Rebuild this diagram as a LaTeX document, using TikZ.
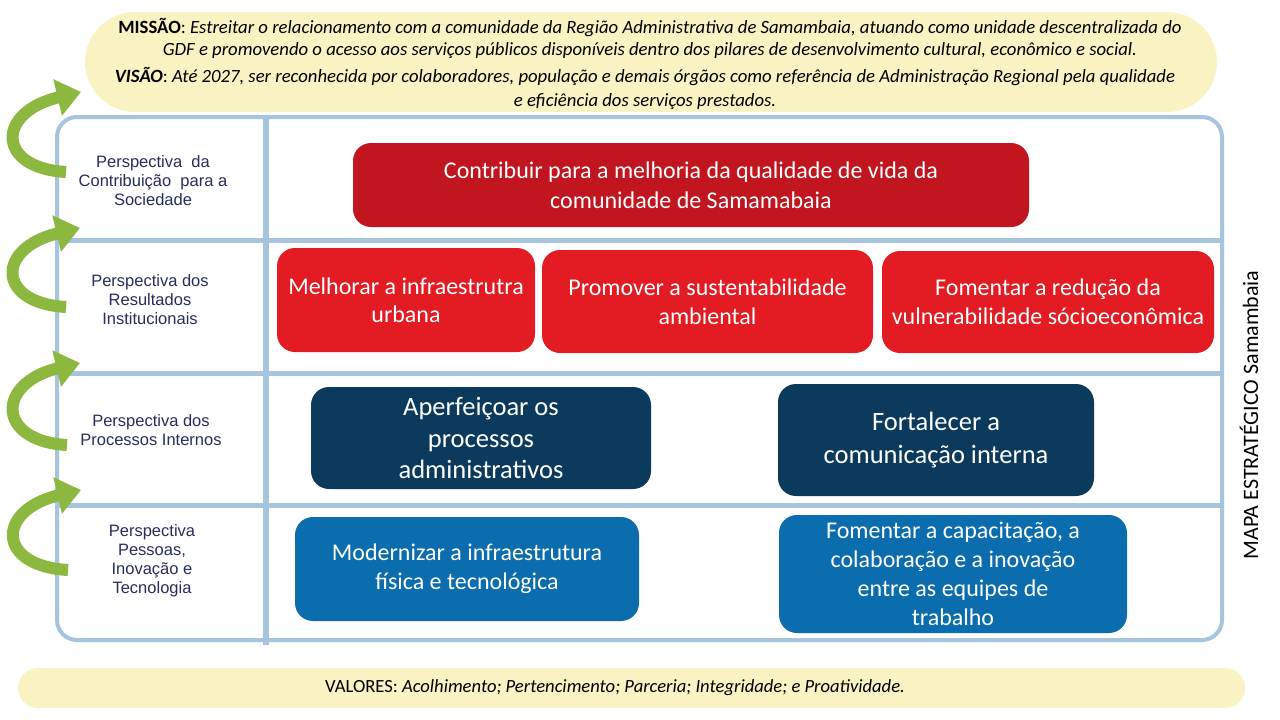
\documentclass[tikz,border=0pt]{standalone}
\usepackage{fontspec}
\setmainfont{Carlito}
\newfontfamily\arialf{Liberation Sans}
\usetikzlibrary{arrows.meta}
\definecolor{frameblue}{HTML}{A7C4DE}
\definecolor{paleyellow}{HTML}{F9F2C3}
\definecolor{darkred}{HTML}{C1161F}
\definecolor{brightred}{HTML}{E31B23}
\definecolor{navyobj}{HTML}{0C3A5C}
\definecolor{blueobj}{HTML}{0B6DAD}
\definecolor{labelnavy}{HTML}{262E5C}
\definecolor{greenarrow}{HTML}{8CB840}
\tikzset{
  obj/.style={rounded corners=18pt, text=white, align=center, inner sep=0pt,
    font=\fontsize{24}{30}\selectfont},
  persp/.style={align=center, text=labelnavy, inner sep=0pt,
    font=\arialf\fontsize{16.5}{19}\selectfont},
  divider/.style={draw=frameblue, line width=5pt},
  garrow/.style={draw=greenarrow, line width=12pt,
    -{Triangle[length=24pt,width=36pt]}}
}
\begin{document}
\begin{tikzpicture}[x=1pt,y=-1pt]
\useasboundingbox[fill=white] (0,0) rectangle (1280,720);

% top yellow band
\fill[paleyellow, rounded corners=50pt] (85,12) rectangle (1217,112);
\node[align=center, inner sep=0pt, font=\fontsize{18.7}{22}\selectfont] (mission) at (650,38)
  {\textbf{MISSÃO}: \textit{Estreitar o relacionamento com a comunidade da Região Administrativa de Samambaia, atuando como unidade descentralizada do}\\
   \textit{GDF e promovendo o acesso aos serviços públicos disponíveis dentro dos pilares de desenvolvimento cultural, econômico e social.}};
\node[align=center, inner sep=0pt, font=\fontsize{18.7}{24}\selectfont] (vision) at (645,88)
  {\textbf{\textit{VISÃO}}: \textit{Até 2027, ser reconhecida por colaboradores, população e demais órgãos como referência de Administração Regional pela qualidade}\\
   \textit{e eficiência dos serviços prestados.}};

% frame
\draw[frameblue, line width=4pt, rounded corners=20pt] (57,117) rectangle (1222,640);
\draw[divider] (57,240) -- (1222,240);
\draw[divider] (57,373) -- (1222,373);
\draw[divider] (57,505) -- (1222,505);
\draw[draw=frameblue, line width=6pt] (266,118) -- (266,645);

% perspective labels
\node[persp] (p1) at (153,181) {Perspectiva\ \ da\\Contribuição\ \ para a\\Sociedade};
\node[persp] (p2) at (150,300) {Perspectiva dos\\Resultados\\Institucionais};
\node[persp] (p3) at (151,430) {Perspectiva dos\\Processos Internos};
\node[persp] (p4) at (152,561) {Perspectiva\\Pessoas,\\Inovação e\\Tecnologia};

% objectives
\node[obj, fill=darkred, minimum width=676pt, minimum height=84pt] (o1) at (691,185)
  {Contribuir para a melhoria da qualidade de vida da\\comunidade de Samamabaia};
\node[obj, fill=brightred, minimum width=258pt, minimum height=104pt, font=\fontsize{24}{28}\selectfont] (o21) at (406,300)
  {Melhorar a infraestrutra\\urbana};
\node[obj, fill=brightred, minimum width=331pt, minimum height=103pt, font=\fontsize{24}{29}\selectfont] (o22) at (707.5,301.5)
  {Promover a sustentabilidade\\ambiental};
\node[obj, fill=brightred, minimum width=332pt, minimum height=102pt, font=\fontsize{24}{29}\selectfont] (o23) at (1048,302)
  {Fomentar a redução da\\vulnerabilidade sócioeconômica};
\node[obj, fill=navyobj, minimum width=340pt, minimum height=102pt, font=\fontsize{26.5}{31.5}\selectfont] (o31) at (481,438)
  {Aperfeiçoar os\\processos\\administrativos};
\node[obj, fill=navyobj, minimum width=316pt, minimum height=112pt, font=\fontsize{26.5}{33}\selectfont] (o32) at (936,440)
  {Fortalecer a\\comunicação interna};
\node[obj, fill=blueobj, minimum width=344pt, minimum height=104pt, font=\fontsize{24}{29}\selectfont] (o41) at (467,569)
  {Modernizar a infraestrutura\\física e tecnológica};
\node[obj, fill=blueobj, minimum width=348pt, minimum height=118pt, font=\fontsize{24}{29}\selectfont] (o42) at (953,574)
  {Fomentar a capacitação, a\\colaboração e a inovação\\entre as equipes de\\trabalho};

% vertical title
\node[rotate=90, inner sep=0pt, font=\fontsize{22}{26}\selectfont] (title) at (1249,415) {MAPA ESTRATÉGICO Samambaia};

% green arrows
\draw[garrow] (66,172) .. controls (-4,168) and (-4,112) .. (81,92);
\draw[garrow] (66,307) .. controls (-4,303) and (-4,248) .. (80,228);
\draw[garrow] (67,445) .. controls (-4,441) and (-4,383) .. (80,363);
\draw[garrow] (68,570) .. controls (-4,566) and (-4,510) .. (81,490);

% bottom values band
\fill[paleyellow, rounded corners=20pt] (18,668) rectangle (1245,708);
\node[inner sep=0pt, font=\fontsize{18.6}{22}\selectfont] (values) at (615,688)
  {VALORES: \textit{Acolhimento; Pertencimento; Parceria; Integridade; e Proatividade.}};
\end{tikzpicture}
\end{document}
